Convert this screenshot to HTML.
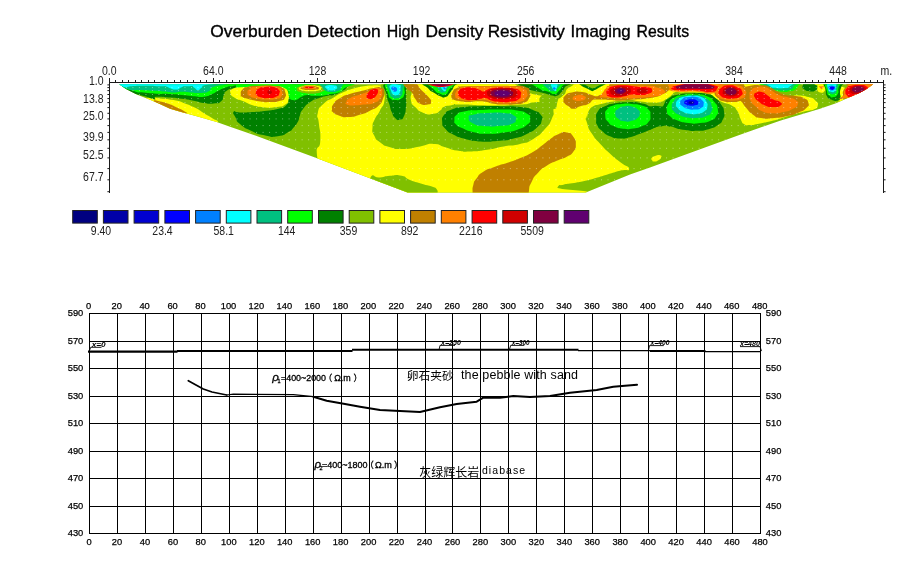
<!DOCTYPE html>
<html><head><meta charset="utf-8"><title>Overburden Detection High Density Resistivity Imaging Results</title>
<style>html,body{margin:0;padding:0;background:#fff}svg{display:block}text{font-family:"Liberation Sans","Noto Sans CJK SC",sans-serif;fill:#000}.ax{font-size:12px;fill:#222}.g{font-size:9.8px;stroke:#000;stroke-width:.25px}.cj{font-family:"Liberation Sans","Noto Sans CJK SC",sans-serif}</style></head><body>
<svg width="900" height="562" viewBox="0 0 900 562">
<rect width="900" height="562" fill="#fff"/>
<text y="37.2" font-size="16.6" stroke="#000" stroke-width="0.35"><tspan x="210.3" textLength="91.9" lengthAdjust="spacingAndGlyphs">Overburden</tspan> <tspan x="306.9" textLength="73.7" lengthAdjust="spacingAndGlyphs">Detection</tspan> <tspan x="386.7" textLength="32.7" lengthAdjust="spacingAndGlyphs">High</tspan> <tspan x="425.6" textLength="57.8" lengthAdjust="spacingAndGlyphs">Density</tspan> <tspan x="487.7" textLength="77.2" lengthAdjust="spacingAndGlyphs">Resistivity</tspan> <tspan x="570.6" textLength="60.2" lengthAdjust="spacingAndGlyphs">Imaging</tspan> <tspan x="636.5" textLength="52.6" lengthAdjust="spacingAndGlyphs">Results</tspan></text>
<g stroke="#1a1a1a" stroke-width="1" fill="none" shape-rendering="crispEdges">
<path d="M109.2 82.5H883.8"/>
<path d="M109.0 82.0V193"/>
<path d="M883.8 82.0V193"/>
<path d="M109.2 82.5v-4.2M115.7 82.5v-2.2M122.2 82.5v-2.2M128.7 82.5v-2.2M135.2 82.5v-2.2M141.7 82.5v-2.2M148.2 82.5v-2.2M154.8 82.5v-2.2M161.3 82.5v-2.2M167.8 82.5v-2.2M174.3 82.5v-2.2M180.8 82.5v-2.2M187.3 82.5v-2.2M193.8 82.5v-2.2M200.3 82.5v-2.2M206.8 82.5v-2.2M213.3 82.5v-4.2M219.8 82.5v-2.2M226.3 82.5v-2.2M232.9 82.5v-2.2M239.4 82.5v-2.2M245.9 82.5v-2.2M252.4 82.5v-2.2M258.9 82.5v-2.2M265.4 82.5v-2.2M271.9 82.5v-2.2M278.4 82.5v-2.2M284.9 82.5v-2.2M291.4 82.5v-2.2M297.9 82.5v-2.2M304.4 82.5v-2.2M310.9 82.5v-2.2M317.5 82.5v-4.2M324.0 82.5v-2.2M330.5 82.5v-2.2M337.0 82.5v-2.2M343.5 82.5v-2.2M350.0 82.5v-2.2M356.5 82.5v-2.2M363.0 82.5v-2.2M369.5 82.5v-2.2M376.0 82.5v-2.2M382.5 82.5v-2.2M389.0 82.5v-2.2M395.6 82.5v-2.2M402.1 82.5v-2.2M408.6 82.5v-2.2M415.1 82.5v-2.2M421.6 82.5v-4.2M428.1 82.5v-2.2M434.6 82.5v-2.2M441.1 82.5v-2.2M447.6 82.5v-2.2M454.1 82.5v-2.2M460.6 82.5v-2.2M467.1 82.5v-2.2M473.6 82.5v-2.2M480.2 82.5v-2.2M486.7 82.5v-2.2M493.2 82.5v-2.2M499.7 82.5v-2.2M506.2 82.5v-2.2M512.7 82.5v-2.2M519.2 82.5v-2.2M525.7 82.5v-4.2M532.2 82.5v-2.2M538.7 82.5v-2.2M545.2 82.5v-2.2M551.7 82.5v-2.2M558.3 82.5v-2.2M564.8 82.5v-2.2M571.3 82.5v-2.2M577.8 82.5v-2.2M584.3 82.5v-2.2M590.8 82.5v-2.2M597.3 82.5v-2.2M603.8 82.5v-2.2M610.3 82.5v-2.2M616.8 82.5v-2.2M623.3 82.5v-2.2M629.8 82.5v-4.2M636.3 82.5v-2.2M642.9 82.5v-2.2M649.4 82.5v-2.2M655.9 82.5v-2.2M662.4 82.5v-2.2M668.9 82.5v-2.2M675.4 82.5v-2.2M681.9 82.5v-2.2M688.4 82.5v-2.2M694.9 82.5v-2.2M701.4 82.5v-2.2M707.9 82.5v-2.2M714.4 82.5v-2.2M721.0 82.5v-2.2M727.5 82.5v-2.2M734.0 82.5v-4.2M740.5 82.5v-2.2M747.0 82.5v-2.2M753.5 82.5v-2.2M760.0 82.5v-2.2M766.5 82.5v-2.2M773.0 82.5v-2.2M779.5 82.5v-2.2M786.0 82.5v-2.2M792.5 82.5v-2.2M799.0 82.5v-2.2M805.6 82.5v-2.2M812.1 82.5v-2.2M818.6 82.5v-2.2M825.1 82.5v-2.2M831.6 82.5v-2.2M838.1 82.5v-4.2M844.6 82.5v-2.2M851.1 82.5v-2.2M857.6 82.5v-2.2M864.1 82.5v-2.2M870.6 82.5v-2.2M877.1 82.5v-2.2M883.7 82.5v-2.2"/>
</g>
<path d="M109.0 84.9h-1.6M883.8 84.9h1.8M109.0 87.6h-1.6M883.8 87.6h1.8M109.0 90.6h-1.6M883.8 90.6h1.8M109.0 94.5h-1.6M883.8 94.5h1.8M109.0 98.6h-1.6M883.8 98.6h1.8M109.0 102.6h-1.6M883.8 102.6h1.8M109.0 107.6h-1.6M883.8 107.6h1.8M109.0 113.3h-1.6M883.8 113.3h1.8M109.0 118.9h-1.6M883.8 118.9h1.8M109.0 125.6h-1.6M883.8 125.6h1.8M109.0 132.4h-1.6M883.8 132.4h1.8M109.0 139.8h-1.6M883.8 139.8h1.8M109.0 148.3h-1.6M883.8 148.3h1.8M109.0 157.9h-1.6M883.8 157.9h1.8M109.0 168.6h-1.6M883.8 168.6h1.8M109.0 179.8h-1.6M883.8 179.8h1.8M109.0 191.7h-1.6M883.8 191.7h1.8" stroke="#1a1a1a" stroke-width="1" fill="none"/>
<text class="ax" x="109.2" y="74.9" text-anchor="middle" textLength="14.6" lengthAdjust="spacingAndGlyphs">0.0</text>
<text class="ax" x="213.3" y="74.9" text-anchor="middle" textLength="20.4" lengthAdjust="spacingAndGlyphs">64.0</text>
<text class="ax" x="317.5" y="74.9" text-anchor="middle" textLength="17.5" lengthAdjust="spacingAndGlyphs">128</text>
<text class="ax" x="421.6" y="74.9" text-anchor="middle" textLength="17.5" lengthAdjust="spacingAndGlyphs">192</text>
<text class="ax" x="525.7" y="74.9" text-anchor="middle" textLength="17.5" lengthAdjust="spacingAndGlyphs">256</text>
<text class="ax" x="629.8" y="74.9" text-anchor="middle" textLength="17.5" lengthAdjust="spacingAndGlyphs">320</text>
<text class="ax" x="734.0" y="74.9" text-anchor="middle" textLength="17.5" lengthAdjust="spacingAndGlyphs">384</text>
<text class="ax" x="838.1" y="74.9" text-anchor="middle" textLength="17.5" lengthAdjust="spacingAndGlyphs">448</text>
<text class="ax" x="880.5" y="74.9" textLength="11.7" lengthAdjust="spacingAndGlyphs">m.</text>
<text class="ax" x="103.5" y="84.8" text-anchor="end" textLength="14.6" lengthAdjust="spacingAndGlyphs">1.0</text>
<text class="ax" x="103.5" y="103.2" text-anchor="end" textLength="20.4" lengthAdjust="spacingAndGlyphs">13.8</text>
<text class="ax" x="103.5" y="119.6" text-anchor="end" textLength="20.4" lengthAdjust="spacingAndGlyphs">25.0</text>
<text class="ax" x="103.5" y="140.9" text-anchor="end" textLength="20.4" lengthAdjust="spacingAndGlyphs">39.9</text>
<text class="ax" x="103.5" y="159.4" text-anchor="end" textLength="20.4" lengthAdjust="spacingAndGlyphs">52.5</text>
<text class="ax" x="103.5" y="180.8" text-anchor="end" textLength="20.4" lengthAdjust="spacingAndGlyphs">67.7</text>
<defs><clipPath id="cp"><path d="M119.3 84.2L873.3 84.2L866.7 89.1L860.0 92.7L846.7 98.4L836.0 103.3L820.0 108.7L806.7 112.7L793.3 116.7L780.0 120.7L740.0 134.7L650.0 167.5L630.0 174.6L585.8 192.6L407.5 192.6L315.0 157.5L260.0 137.2L230.0 126.7L216.7 122.1L196.7 116.3L184.7 112.9L170.0 108.7L155.3 102.1L150.0 99.7L136.7 94.4L126.0 89.1Z"/></clipPath></defs>
<g clip-path="url(#cp)">
<rect x="100" y="80" width="800" height="120" fill="#80c000"/>
<path fill="#ffff00" d="M317.8 160.6C314.5 140.8 319.9 152.8 320.3 140.5C320.7 128.3 319.8 133.0 318.9 123.8C318.1 114.6 316.2 119.6 317.8 112.9C319.3 106.2 318.3 108.9 323.6 103.7C328.9 98.6 327.0 101.3 333.6 97.4C340.3 93.5 337.0 95.0 343.7 92.0C350.4 89.0 347.0 90.2 353.7 88.4C360.4 86.5 357.1 87.4 363.7 86.3C370.4 85.3 367.1 85.8 373.8 85.3C380.5 84.9 378.2 86.1 383.8 85.0C389.4 83.9 316.1 83.0 390.5 82.0C464.9 81.0 535.7 78.7 607.0 82.0C678.4 85.3 607.6 86.5 604.5 92.0C601.4 97.6 602.3 93.7 597.8 98.7C593.4 103.7 594.9 101.5 591.1 107.1C587.3 112.7 587.7 109.9 586.5 115.4C585.2 121.0 585.5 117.7 587.3 123.8C589.1 129.9 587.6 127.2 592.0 133.8C596.3 140.5 594.2 137.2 600.3 143.9C606.5 150.6 603.7 147.8 610.4 153.9C617.1 160.0 614.2 157.3 620.4 162.3C626.6 167.3 629.2 166.1 629.1 169.0C629.0 171.8 627.5 168.9 620.0 170.8C612.5 172.7 615.6 172.1 606.7 174.7C597.8 177.3 601.1 176.5 593.3 178.7C585.6 180.8 590.4 179.7 583.3 181.2C576.2 182.7 578.7 182.0 572.0 183.2C565.3 184.3 568.2 183.3 563.3 184.7C558.5 186.0 560.6 183.6 557.5 187.2C554.4 190.7 630.0 191.1 554.2 195.3C478.3 199.6 408.8 211.6 330.0 200.0C251.2 188.4 321.0 180.4 317.8 160.6Z"/>
<path fill="#ffff00" d="M586.2 82.0C640.9 70.9 692.3 80.8 750.4 82.0C808.5 83.2 754.3 83.7 760.4 85.7C766.6 87.6 762.8 85.5 768.8 87.9C774.8 90.2 771.9 90.1 778.5 92.9C785.1 95.7 781.8 95.4 788.5 96.2C795.2 97.1 791.9 95.1 798.6 95.4C805.3 95.7 803.0 95.4 808.6 97.1C814.2 98.7 812.2 97.6 815.3 100.4C818.4 103.2 818.4 102.3 817.8 105.4C817.2 108.5 817.2 107.7 813.6 109.6C810.0 111.5 814.7 109.1 806.9 111.1C799.1 113.0 801.3 112.3 790.2 115.4C779.1 118.6 783.5 117.8 773.5 120.5C763.4 123.1 767.9 121.9 760.1 123.5C752.3 125.0 755.4 124.9 750.1 125.1C744.7 125.4 747.1 125.9 744.0 124.1C741.0 122.4 743.4 124.5 741.0 120.0C738.7 115.4 740.1 115.4 737.0 110.6C733.9 105.7 737.0 108.5 731.7 105.4C726.3 102.3 727.0 104.3 721.0 101.4C714.9 98.5 717.2 99.2 713.6 96.7C710.0 94.3 711.9 95.2 710.3 94.0C708.6 92.9 713.1 93.9 708.6 93.4C704.1 92.8 706.4 92.7 696.9 92.4C687.4 92.0 687.7 92.4 680.2 92.4C672.6 92.4 677.0 91.6 674.3 92.4C671.6 93.1 674.7 92.4 672.1 94.5C669.6 96.7 670.7 96.2 666.6 98.7C662.6 101.2 664.7 100.8 659.9 102.1C655.1 103.3 658.5 102.8 652.2 102.6C645.9 102.3 648.5 102.3 641.0 101.4C633.6 100.5 635.5 100.2 630.0 99.9C624.5 99.6 630.1 99.9 624.5 100.4C618.9 100.9 620.7 100.3 613.3 101.4C605.9 102.5 609.6 101.7 602.2 103.7C594.9 105.8 596.6 103.7 591.2 107.6C585.9 111.5 587.9 124.0 586.2 115.4C584.5 106.9 531.4 93.1 586.2 82.0Z"/>
<path fill="#ffff00" d="M147.6 97.9C151.5 96.4 151.5 97.7 160.2 98.4C168.8 99.1 165.7 98.6 173.5 100.1C181.3 101.6 176.9 100.6 183.6 102.9C190.3 105.2 186.9 103.7 193.6 107.1C200.3 110.4 197.5 109.3 203.6 112.9C209.8 116.6 207.3 114.8 212.0 118.0C216.7 121.1 218.4 119.8 217.9 122.5C217.3 125.1 233.5 132.3 210.3 125.8C187.2 119.3 169.4 112.2 148.5 102.9C127.6 93.6 143.7 99.4 147.6 97.9Z"/>
<path fill="#ffff00" d="M230.5 92.9C229.6 89.8 229.9 91.1 232.5 88.7C235.1 86.3 232.5 87.0 238.3 85.7C244.2 84.3 241.1 85.1 250.0 84.7C259.0 84.2 255.6 84.3 265.1 84.3C274.6 84.3 271.8 83.8 278.5 84.7C285.2 85.6 281.9 84.6 285.2 87.0C288.4 89.5 287.0 88.1 288.2 92.0C289.3 95.9 289.5 94.5 288.5 98.7C287.5 102.9 289.1 101.8 285.2 104.6C281.2 107.4 283.5 106.1 276.8 107.1C270.1 108.0 272.9 108.0 265.1 107.4C257.3 106.9 260.6 107.5 253.4 105.4C246.1 103.3 249.5 103.7 243.3 101.2C237.2 98.7 239.3 100.7 235.0 97.9C230.7 95.1 231.3 95.9 230.5 92.9Z"/>
<path fill="#ffff00" d="M651.7 158.1C652.7 156.6 652.3 156.9 655.1 155.9C657.9 155.0 658.1 154.7 660.1 155.2C662.1 155.8 661.7 155.9 661.1 157.6C660.5 159.3 660.7 158.9 658.4 160.3C656.1 161.6 656.4 161.6 654.2 161.6C652.1 161.6 652.9 161.4 652.1 160.3C651.2 159.1 650.7 159.5 651.7 158.1Z"/>
<path fill="#ffff00" d="M816.1 82.0C813.2 84.2 815.5 85.2 816.9 88.7C818.3 92.1 817.8 91.5 820.3 92.4C822.8 93.2 822.8 93.0 824.4 91.2C826.1 89.4 824.9 90.1 825.3 87.0C825.7 84.0 828.7 83.7 825.6 82.0C822.6 80.3 819.0 79.8 816.1 82.0Z"/>
<path fill="#ffff00" d="M837.0 92.0C836.5 89.5 836.7 90.4 838.7 88.7C840.6 87.0 840.6 86.5 842.8 87.0C845.1 87.6 844.8 87.0 845.4 90.4C845.9 93.7 845.6 93.7 844.5 97.1C843.4 100.4 844.2 99.2 842.0 100.4C839.8 101.6 838.5 102.1 837.8 100.7C837.2 99.3 840.3 99.1 840.0 96.2C839.7 93.3 837.4 94.5 837.0 92.0Z"/>
<path fill="#80c000" d="M384.2 82.0C375.2 87.6 386.1 89.2 384.7 98.7C383.3 108.2 383.3 103.7 380.0 110.4C376.8 117.1 377.5 113.2 375.0 118.8C372.5 124.4 372.8 121.6 372.5 127.2C372.2 132.7 371.7 130.5 374.2 135.5C376.7 140.5 374.7 138.3 380.0 142.2C385.3 146.1 382.3 145.0 390.1 147.2C397.9 149.4 393.4 149.2 403.4 148.9C413.5 148.6 410.1 148.1 420.2 146.4C430.2 144.7 425.2 143.6 433.5 143.9C441.9 144.2 437.4 145.0 445.3 147.2C453.1 149.4 448.6 149.2 457.0 150.6C465.3 152.0 460.3 151.7 470.3 151.4C480.4 151.1 475.9 151.4 487.1 149.7C498.2 148.1 492.8 148.3 503.8 146.4C514.8 144.4 510.1 146.4 520.0 143.9C529.9 141.4 525.0 143.9 533.4 138.9C541.7 133.8 539.0 135.5 545.1 128.8C551.2 122.1 549.0 124.9 551.8 118.8C554.6 112.7 553.6 115.2 553.4 110.4C553.3 105.7 554.6 107.1 551.4 104.6C548.3 102.1 549.9 103.6 543.9 102.9C537.9 102.2 541.3 101.8 533.4 102.4C525.4 103.0 535.4 103.6 520.0 104.6C504.6 105.6 505.8 105.4 487.1 105.4C468.3 105.4 475.9 104.6 463.6 104.6C451.4 104.6 457.0 104.6 450.3 105.4C443.6 106.2 446.9 105.4 443.6 107.1C440.2 108.8 443.6 108.2 440.2 110.4C436.9 112.7 439.1 112.9 433.5 113.8C428.0 114.6 429.6 115.2 423.5 112.9C417.4 110.7 419.3 111.3 415.2 107.1C411.0 102.9 412.1 105.4 411.0 100.4C409.9 95.4 411.2 96.5 411.8 92.0C412.4 87.6 412.6 90.4 412.6 87.0C412.6 83.7 421.3 83.7 411.8 82.0C402.3 80.3 393.2 76.4 384.2 82.0Z"/>
<path fill="#80c000" d="M521.7 82.0C507.2 84.5 521.2 86.1 523.4 89.5C525.6 93.0 524.5 90.7 528.4 92.4C532.3 94.0 530.1 93.3 535.1 94.5C540.1 95.8 537.9 95.1 543.5 96.2C549.1 97.3 547.4 97.1 551.8 97.9C556.3 98.7 553.2 99.4 556.9 98.7C560.5 98.0 559.6 98.5 562.7 95.7C565.8 92.9 564.7 94.9 566.1 90.4C567.4 85.8 581.7 84.8 566.9 82.0C552.1 79.2 536.2 79.5 521.7 82.0Z"/>
<path fill="#80c000" d="M543.7 94.7C549.0 92.0 551.3 91.6 555.7 94.7C560.1 97.8 557.9 99.1 557.0 104.0C556.1 108.9 557.0 108.4 553.0 109.3C549.0 110.2 549.4 108.9 545.0 106.7C540.6 104.5 540.1 106.7 539.7 102.7C539.3 98.7 538.4 97.4 543.7 94.7Z"/>
<path fill="#80c000" d="M370.0 178.7C373.3 171.2 373.3 178.4 380.0 177.5C386.7 176.6 382.8 176.4 390.0 175.8C397.2 175.3 395.0 174.4 401.7 175.8C408.3 177.2 402.8 177.2 410.0 180.0C417.2 182.8 415.8 181.9 423.3 184.2C430.8 186.4 428.1 184.9 432.5 186.7C436.9 188.4 434.9 186.8 436.7 189.3C438.4 191.8 437.3 190.6 437.7 194.2C438.0 197.7 460.2 198.1 437.7 200.0C415.1 201.9 392.6 207.1 370.0 200.0C347.4 192.9 366.7 186.2 370.0 178.7Z"/>
<path fill="#008000" d="M115.0 82.0C146.8 76.9 203.1 80.3 243.8 82.0C284.5 83.7 242.7 84.2 237.1 87.0C231.5 89.8 231.5 87.6 227.1 90.4C222.6 93.1 225.7 91.8 223.7 95.4C221.8 99.0 224.5 98.6 221.2 101.2C217.9 103.9 219.5 102.8 213.7 103.4C207.8 104.0 210.3 103.8 203.6 102.9C197.0 102.0 200.9 102.1 193.6 100.7C186.4 99.3 190.3 99.8 181.9 98.7C173.5 97.6 176.9 98.1 168.5 97.4C160.2 96.7 163.5 96.7 156.8 96.7C150.1 96.7 162.4 102.3 148.5 97.4C134.5 92.5 83.2 87.1 115.0 82.0Z"/>
<path fill="#008000" d="M233.6 111.8C235.0 109.9 233.4 112.3 240.0 112.4C246.6 112.5 244.5 112.7 253.4 112.1C262.3 111.5 258.4 111.9 266.8 110.8C275.1 109.6 272.1 110.5 278.5 108.8C284.9 107.0 282.5 108.5 286.0 105.4C289.4 102.3 287.9 103.5 288.8 99.6C289.8 95.7 289.2 97.1 288.8 93.7C288.4 90.4 287.7 93.4 287.7 89.5C287.7 85.6 269.0 84.5 288.8 82.0C308.6 79.5 327.6 80.3 347.0 82.0C366.4 83.7 349.3 83.7 347.0 87.0C344.8 90.4 344.8 89.4 340.3 92.0C335.9 94.7 337.8 93.8 333.6 95.0C329.5 96.3 332.8 94.7 327.8 95.7C322.8 96.8 324.4 96.1 318.6 98.2C312.7 100.3 315.5 98.3 310.2 102.1C304.9 105.9 306.2 105.1 302.7 109.6C299.3 114.1 301.5 111.3 299.9 115.4C298.2 119.6 299.9 118.0 297.7 122.1C295.5 126.3 296.1 124.8 293.2 128.0C290.2 131.2 294.0 129.0 288.8 131.8C283.7 134.6 285.9 135.2 277.8 136.3C269.7 137.5 273.3 137.0 264.4 135.2C255.5 133.3 259.2 134.5 251.0 130.8C242.9 127.2 245.1 128.4 240.0 124.1C234.9 119.8 237.9 122.1 235.8 118.0C233.7 113.8 232.3 113.6 233.6 111.8Z"/>
<path fill="#008000" d="M385.9 82.0C380.0 86.5 385.6 88.1 386.7 95.4C387.8 102.6 387.6 98.2 389.2 103.7C390.9 109.3 389.8 107.4 391.7 112.1C393.7 116.8 392.3 115.4 395.1 118.0C397.9 120.5 397.0 120.5 400.1 119.6C403.2 118.8 402.3 119.6 404.3 115.4C406.2 111.3 405.3 112.7 406.0 107.1C406.6 101.5 406.1 103.7 406.1 98.7C406.1 93.7 406.6 97.6 406.0 92.0C405.3 86.5 411.0 85.3 404.3 82.0C397.6 78.7 391.7 77.5 385.9 82.0Z"/>
<path fill="#008000" d="M426.0 82.0C417.4 84.2 425.7 85.1 428.5 88.7C431.3 92.3 430.5 90.4 434.4 92.9C438.3 95.4 436.6 94.8 440.2 96.2C443.9 97.6 442.0 98.2 445.3 97.1C448.5 95.9 447.1 96.2 449.9 92.9C452.7 89.5 452.1 90.6 453.6 87.0C455.1 83.4 463.6 83.7 454.4 82.0C445.3 80.3 434.7 79.8 426.0 82.0Z"/>
<path fill="#008000" d="M442.2 122.1C442.0 117.4 441.2 118.8 444.4 114.6C447.6 110.4 445.5 112.1 451.9 109.6C458.4 107.1 454.2 108.2 463.6 107.1C473.1 106.0 468.1 106.5 480.4 106.2C492.6 106.0 487.1 106.0 500.4 106.2C513.8 106.5 509.4 105.7 520.5 107.1C531.6 108.5 527.2 107.9 533.9 110.4C540.6 112.9 537.9 111.3 540.6 114.6C543.2 118.0 542.9 116.3 541.7 120.5C540.6 124.6 542.1 122.7 537.2 127.2C532.4 131.6 535.0 130.0 527.2 133.8C519.4 137.6 523.8 136.2 513.8 138.5C503.8 140.9 508.2 139.9 497.1 140.9C485.9 141.8 491.0 142.0 480.4 141.4C469.8 140.7 474.2 141.1 465.3 138.9C456.4 136.6 460.3 138.0 453.6 134.7C446.9 131.3 449.0 133.0 445.3 128.8C441.5 124.6 442.5 126.9 442.2 122.1Z"/>
<path fill="#008000" d="M523.4 82.0C510.6 84.2 523.4 85.8 526.8 88.7C530.1 91.6 527.9 89.3 533.4 90.7C539.0 92.1 537.3 91.3 543.5 92.9C549.6 94.4 547.4 94.4 551.8 95.4C556.3 96.3 553.8 96.7 556.9 95.7C559.9 94.7 558.5 95.0 561.0 92.4C563.5 89.7 563.0 91.3 564.4 87.9C565.8 84.4 578.9 84.0 565.2 82.0C551.6 80.0 536.2 79.8 523.4 82.0Z"/>
<path fill="#008000" d="M596.2 119.6C596.4 114.9 595.0 115.7 597.9 111.3C600.8 106.8 599.2 108.9 604.9 106.2C610.6 103.6 607.1 104.6 614.9 103.2C622.8 101.9 620.0 102.3 628.3 102.2C636.7 102.2 632.8 101.6 640.0 103.1C647.3 104.5 644.5 103.9 650.1 106.6C655.6 109.3 652.3 108.3 656.8 111.3C661.2 114.2 660.4 111.8 663.4 115.4C666.5 119.1 666.0 118.7 666.0 122.1C666.0 125.6 666.5 124.3 663.4 125.8C660.4 127.4 661.2 125.5 656.8 126.8C652.3 128.1 655.6 127.3 650.1 129.7C644.5 132.0 646.7 131.3 640.0 133.8C633.3 136.3 636.7 135.6 630.0 137.2C623.3 138.7 626.7 138.8 620.0 138.5C613.3 138.2 616.1 139.0 609.9 136.3C603.8 133.7 605.8 134.1 601.6 130.5C597.4 126.9 599.2 129.1 597.4 125.5C595.6 121.9 596.1 124.4 596.2 119.6Z"/>
<path fill="#008000" d="M662.6 112.1C661.8 105.7 662.1 108.5 664.3 103.7C666.5 99.0 664.6 101.0 669.3 97.9C674.0 94.8 671.0 96.0 678.5 94.5C686.0 93.0 682.4 93.5 691.9 93.4C701.3 93.2 699.1 92.5 706.9 94.0C714.7 95.5 710.5 94.4 715.3 97.9C720.0 101.4 718.2 99.8 721.1 104.6C724.1 109.3 723.6 107.1 724.1 112.1C724.7 117.1 724.9 115.3 722.8 119.6C720.7 124.0 722.5 122.0 717.8 125.1C713.1 128.3 715.6 127.3 708.6 129.2C701.6 131.1 704.7 130.6 696.9 130.8C689.1 131.1 692.7 131.1 685.2 130.0C677.7 128.9 680.4 129.8 674.3 127.5C668.2 125.1 670.7 128.1 666.8 123.0C662.9 117.8 663.4 118.5 662.6 112.1Z"/>
<path fill="#008000" d="M646.7 107.1L655.1 105.7L661.8 106.4L668.5 107.1L670.1 126.8L665.1 125.5L658.4 126.3L650.1 129.7L646.7 128.8Z"/>
<path fill="#008000" d="M579.0 84.0L606.0 84.0L600.0 87.0L596.0 89.5L592.2 91.2L588.0 89.0L583.0 86.8Z"/>
<path fill="#80c000" d="M584.0 84.0L602.0 84.0L597.0 86.6L592.5 88.6L588.0 86.6Z"/>
<path fill="#008000" d="M802.7 85.7C801.9 88.2 801.9 87.6 804.4 89.5C806.9 91.4 806.6 91.1 810.2 91.4C813.9 91.6 812.9 91.8 815.3 90.4C817.6 88.9 817.3 88.9 817.3 87.0C817.3 85.1 818.7 86.3 815.3 84.7C811.8 83.0 811.1 81.7 806.9 82.0C802.7 82.3 803.5 83.2 802.7 85.7Z"/>
<path fill="#008000" d="M826.0 82.0C820.5 84.8 825.5 85.6 825.8 90.4C826.1 95.1 825.2 93.1 827.0 96.2C828.7 99.3 827.8 98.1 831.1 99.6C834.5 101.1 833.9 101.3 837.0 100.7C840.1 100.2 839.3 100.8 840.3 97.9C841.3 95.0 839.7 95.7 840.0 92.0C840.3 88.4 840.5 90.4 841.2 87.0C841.8 83.7 847.1 83.7 842.0 82.0C836.9 80.3 831.4 79.2 826.0 82.0Z"/>
<path fill="#00ff00" d="M115.0 82.0C151.8 79.1 204.2 80.8 243.8 82.0C283.4 83.2 239.3 84.0 233.7 85.7C228.2 87.4 232.1 85.5 227.1 87.0C222.0 88.6 223.7 88.0 218.7 90.4C213.7 92.7 217.0 91.9 212.0 94.0C207.0 96.2 209.8 96.0 203.6 96.7C197.5 97.4 200.9 96.8 193.6 96.2C186.4 95.7 190.3 95.8 181.9 95.0C173.5 94.3 176.9 94.5 168.5 94.0C160.2 93.6 165.2 94.3 156.8 93.7C148.5 93.1 151.2 93.4 143.4 92.4C135.6 91.4 142.9 94.2 133.4 90.7C123.9 87.2 78.2 84.9 115.0 82.0Z"/>
<path fill="#00ff00" d="M236.0 83.0L292.0 83.0L292.0 86.2L268.0 87.0L250.0 86.8L236.0 87.6Z"/>
<path fill="#00ff00" d="M288.8 82.0C308.3 78.7 328.7 79.8 347.0 82.0C365.3 84.2 346.5 85.2 343.7 88.7C340.9 92.1 343.1 90.6 338.7 92.4C334.2 94.2 335.3 93.0 330.3 94.0C325.3 95.0 329.2 94.8 323.6 95.4C318.0 95.9 319.2 95.8 313.6 95.7C308.0 95.6 311.1 94.6 306.9 95.0C302.7 95.5 304.4 95.5 301.0 97.1C297.7 98.6 299.6 98.6 296.9 99.6C294.1 100.6 295.1 100.8 292.7 100.1C290.2 99.3 290.9 100.1 289.5 97.4C288.1 94.7 288.7 97.2 288.5 92.0C288.3 86.9 269.3 85.3 288.8 82.0Z"/>
<path fill="#00ff00" d="M387.2 82.0C382.2 85.9 386.8 88.1 388.1 93.7C389.3 99.3 388.6 96.6 390.9 98.7C393.2 100.8 391.7 100.1 395.1 100.1C398.4 100.1 397.9 100.6 400.9 98.7C404.0 96.9 403.2 97.9 404.3 94.5C405.4 91.2 404.7 92.9 404.3 88.7C403.9 84.5 408.8 84.2 403.1 82.0C397.4 79.8 392.2 78.1 387.2 82.0Z"/>
<path fill="#00ff00" d="M430.2 82.0C424.5 84.7 431.0 86.1 434.4 90.0C437.7 93.9 436.7 92.2 440.2 93.7C443.7 95.2 442.1 95.5 444.9 94.5C447.7 93.5 446.4 94.9 448.6 90.7C450.8 86.5 457.7 84.9 451.6 82.0C445.5 79.1 435.9 79.3 430.2 82.0Z"/>
<path fill="#00ff00" d="M454.4 120.5C454.7 117.1 453.3 117.7 457.0 114.6C460.6 111.5 457.5 112.8 465.3 111.3C473.1 109.8 468.7 110.7 480.4 110.1C492.1 109.5 488.2 109.5 500.4 109.6C512.7 109.7 508.2 109.0 517.2 110.4C526.1 111.8 522.9 111.0 527.2 113.8C531.5 116.6 530.0 115.2 530.0 118.8C530.0 122.4 531.5 121.0 527.2 124.6C522.9 128.3 525.0 127.0 517.2 129.7C509.4 132.3 513.8 131.1 503.8 132.5C493.7 133.9 497.1 134.0 487.1 133.8C477.0 133.7 482.0 134.1 473.7 132.2C465.3 130.2 467.8 130.5 462.0 128.0C456.1 125.5 458.6 127.2 456.1 124.6C453.6 122.1 454.2 123.8 454.4 120.5Z"/>
<path fill="#00ff00" d="M535.1 82.0C527.9 84.3 535.7 85.8 540.1 89.0C544.6 92.3 543.8 90.0 548.5 91.7C553.2 93.4 551.0 94.2 554.3 94.0C557.7 93.9 556.1 93.5 558.5 91.2C560.9 88.9 560.4 90.1 561.5 87.0C562.7 84.0 570.7 83.7 561.9 82.0C553.1 80.3 542.4 79.7 535.1 82.0Z"/>
<path fill="#00ff00" d="M605.3 115.4C605.0 111.1 604.7 112.4 607.4 109.1C610.1 105.7 608.5 107.1 613.3 105.4C618.0 103.7 615.5 104.4 621.6 103.9C627.8 103.4 625.0 103.3 631.7 103.9C638.4 104.5 636.1 103.7 641.7 105.6C647.3 107.5 645.5 106.3 648.4 109.6C651.3 112.9 650.4 111.3 650.4 115.4C650.4 119.6 651.3 118.5 648.4 122.1C645.5 125.8 646.7 124.2 641.7 126.3C636.7 128.4 639.5 127.7 633.3 128.5C627.2 129.3 629.7 129.5 623.3 128.8C616.9 128.1 619.1 128.5 614.1 126.3C609.1 124.1 611.2 125.8 608.3 122.1C605.3 118.5 605.5 119.8 605.3 115.4Z"/>
<path fill="#00ff00" d="M666.8 110.4C666.3 106.0 666.3 107.3 668.8 102.9C671.3 98.6 669.4 100.1 674.3 97.4C679.2 94.7 676.5 95.9 683.5 94.9C690.5 93.9 687.4 93.9 695.2 94.4C703.0 94.8 700.5 93.6 706.9 96.2C713.3 98.8 710.8 97.6 714.4 102.1C718.1 106.5 717.2 104.9 717.8 109.6C718.4 114.3 718.6 112.5 716.1 116.3C713.6 120.0 715.6 118.5 710.3 120.8C705.0 123.1 707.5 122.4 700.2 123.1C693.0 123.9 696.1 123.9 688.5 123.0C681.0 122.1 683.8 122.7 677.7 120.5C671.5 118.2 673.8 119.6 670.1 116.3C666.5 112.9 667.2 114.9 666.8 110.4Z"/>
<path fill="#00ff00" d="M763.4 82.0C752.5 83.8 762.9 84.7 765.9 87.4C769.0 90.0 767.3 88.6 772.6 90.0C777.9 91.5 776.0 91.3 781.8 91.7C787.7 92.1 785.4 92.1 790.2 91.2C794.9 90.3 793.5 90.7 796.0 89.0C798.5 87.4 796.9 88.5 797.7 86.2C798.5 83.8 810.0 83.4 798.5 82.0C787.1 80.6 774.3 80.2 763.4 82.0Z"/>
<path fill="#00ff00" d="M827.0 82.0C822.9 85.1 826.1 86.6 827.0 91.2C827.8 95.8 827.2 93.8 829.5 95.7C831.7 97.7 830.9 97.7 833.6 97.1C836.4 96.4 836.3 96.5 837.8 93.7C839.4 90.9 837.9 92.6 838.3 88.7C838.7 84.8 842.8 84.2 839.0 82.0C835.2 79.8 831.0 78.9 827.0 82.0Z"/>
<path fill="#80c000" d="M296.9 89.5C296.9 87.6 295.7 87.8 300.2 86.2C304.7 84.6 303.5 85.0 310.2 84.7C316.9 84.4 315.5 84.0 320.3 85.3C325.0 86.7 323.9 86.6 324.4 88.7C325.0 90.8 325.0 90.1 321.9 91.7C318.9 93.3 320.3 92.8 315.3 93.4C310.2 93.9 311.9 93.8 306.9 93.4C301.9 92.9 303.5 93.3 300.2 92.0C296.9 90.8 296.9 91.5 296.9 89.5Z"/>
<path fill="#ffff00" d="M298.9 88.7C298.6 87.2 298.9 87.4 302.7 86.2C306.5 85.0 305.2 85.2 310.2 85.2C315.3 85.1 314.1 85.0 317.8 86.0C321.4 87.1 321.1 86.8 321.1 88.4C321.1 89.9 321.4 89.7 317.8 90.7C314.1 91.6 315.0 91.2 310.2 91.2C305.5 91.2 307.3 91.5 303.5 90.7C299.8 89.9 299.1 90.2 298.9 88.7Z"/>
<path fill="#00c080" d="M115.0 82.0C144.3 79.8 182.5 80.0 214.5 82.0C246.6 84.0 213.1 84.8 211.2 87.9C209.2 90.9 212.0 89.5 208.7 91.2C205.3 92.9 207.3 92.5 201.1 92.9C195.0 93.3 196.7 92.8 190.3 92.4C183.9 92.0 187.5 91.7 181.9 91.7C176.3 91.7 179.7 92.5 173.5 92.4C167.4 92.3 170.8 91.9 163.5 91.4C156.3 90.8 159.6 91.1 151.8 90.7C144.0 90.2 148.5 90.7 140.1 90.0C131.7 89.4 135.1 91.4 126.7 88.7C118.4 86.0 85.8 84.2 115.0 82.0Z"/>
<path fill="#00c080" d="M321.9 82.0C327.8 80.0 333.9 80.0 340.3 82.0C346.7 84.0 342.3 84.8 341.2 87.9C340.1 90.9 340.3 89.8 337.0 91.2C333.6 92.6 335.0 92.3 331.1 92.0C327.2 91.8 328.1 91.8 325.3 90.4C322.5 89.0 323.9 90.6 322.8 87.9C321.7 85.1 316.1 84.0 321.9 82.0Z"/>
<path fill="#00c080" d="M388.7 82.0C384.6 85.6 388.5 87.7 389.7 92.9C391.0 98.0 390.2 95.6 392.6 97.4C394.9 99.2 394.0 98.6 396.8 98.2C399.5 97.8 399.0 98.6 400.9 96.2C402.9 93.9 402.2 95.9 402.6 91.2C403.0 86.5 406.7 85.1 402.1 82.0C397.5 78.9 392.9 78.4 388.7 82.0Z"/>
<path fill="#00c080" d="M436.1 82.0C432.9 84.8 436.9 86.9 439.4 90.4C441.9 93.8 441.1 92.6 443.6 92.4C446.1 92.1 445.1 93.0 446.9 89.5C448.7 86.1 452.6 84.5 448.9 82.0C445.3 79.5 439.2 79.2 436.1 82.0Z"/>
<path fill="#00c080" d="M468.7 118.0C468.7 114.9 467.5 116.3 473.7 114.6C479.8 112.9 477.0 113.5 487.1 112.9C497.1 112.4 494.9 112.1 503.8 112.9C512.7 113.8 509.8 113.2 513.8 115.4C517.8 117.7 516.4 116.8 515.8 119.6C515.3 122.4 517.3 121.7 512.1 123.8C507.0 125.9 509.4 125.0 500.4 125.8C491.5 126.6 494.3 127.0 485.4 126.3C476.5 125.6 479.3 126.6 473.7 123.8C468.1 121.0 468.7 121.0 468.7 118.0Z"/>
<path fill="#00c080" d="M543.8 82.0C540.2 84.2 544.4 85.6 547.7 88.7C550.9 91.8 550.4 90.9 553.5 91.2C556.6 91.5 555.2 92.6 556.9 89.5C558.5 86.5 562.9 84.5 558.5 82.0C554.2 79.5 547.4 79.8 543.8 82.0Z"/>
<path fill="#00c080" d="M615.3 113.8C615.3 110.4 615.1 111.3 618.3 108.8C621.5 106.2 620.2 106.9 625.0 106.2C629.7 105.6 628.2 105.6 632.5 106.7C636.9 107.9 635.6 107.3 638.0 109.6C640.4 111.9 639.9 111.0 639.7 113.8C639.5 116.6 640.2 115.6 637.5 118.0C634.8 120.3 636.1 119.7 631.7 120.8C627.2 121.9 628.6 122.0 624.1 121.3C619.7 120.6 621.2 121.3 618.3 118.8C615.3 116.3 615.3 117.1 615.3 113.8Z"/>
<path fill="#00c080" d="M671.8 107.1C671.8 103.7 671.3 104.6 673.8 101.2C676.3 97.9 674.7 99.0 679.3 97.1C684.0 95.1 681.3 95.9 687.7 95.4C694.1 94.8 692.2 94.3 698.6 95.4C705.0 96.5 702.6 95.4 706.9 98.7C711.3 102.1 710.2 101.0 711.6 105.4C713.0 109.9 712.9 108.5 711.1 112.1C709.3 115.7 710.8 114.3 706.1 116.3C701.3 118.2 703.3 117.6 696.9 118.0C690.5 118.3 693.0 118.6 686.9 117.5C680.7 116.3 682.8 116.7 678.5 114.6C674.1 112.5 676.0 113.8 673.8 111.3C671.6 108.8 671.8 110.4 671.8 107.1Z"/>
<path fill="#00c080" d="M766.4 82.0C758.1 83.8 765.5 84.8 768.4 87.4C771.3 89.9 770.1 88.5 775.1 89.5C780.1 90.5 778.5 90.4 783.5 90.4C788.5 90.4 786.9 90.6 790.2 89.5C793.4 88.4 792.1 89.5 793.2 87.0C794.3 84.5 802.4 83.7 793.5 82.0C784.6 80.3 774.8 80.2 766.4 82.0Z"/>
<path fill="#00c080" d="M828.0 82.0C824.9 84.8 827.1 86.6 828.0 90.4C828.8 94.2 828.5 92.3 830.5 93.4C832.5 94.5 831.9 94.7 834.0 93.7C836.0 92.7 835.7 94.3 836.7 90.4C837.7 86.5 839.9 84.8 837.0 82.0C834.1 79.2 831.0 79.2 828.0 82.0Z"/>
<path fill="#00ffff" d="M115.0 82.0C141.8 80.4 174.4 80.8 203.6 82.0C232.9 83.2 206.2 84.3 202.8 85.7C199.5 87.0 200.0 85.8 193.6 86.0C187.2 86.2 190.3 86.4 183.6 86.3C176.9 86.3 181.3 85.9 173.5 85.8C165.7 85.8 170.2 86.2 160.2 86.2C150.1 86.2 152.9 85.8 143.4 85.8C134.0 85.8 138.4 85.9 131.7 86.2C125.1 86.5 129.0 88.1 123.4 86.7C117.8 85.3 88.3 83.6 115.0 82.0Z"/>
<path fill="#00ffff" d="M166.9 85.7C171.0 85.1 176.9 84.8 181.1 85.7C185.3 86.6 181.1 87.1 179.4 88.4C177.7 89.6 178.7 89.4 176.1 89.5C173.4 89.6 174.0 89.4 171.5 88.7C169.0 88.0 170.1 88.4 168.5 87.4C167.0 86.3 162.7 86.2 166.9 85.7Z"/>
<path fill="#00ffff" d="M193.6 85.7C195.6 84.7 199.5 84.6 201.6 85.7C203.8 86.8 201.2 87.6 200.0 89.0C198.7 90.5 199.2 90.1 197.8 90.0C196.3 89.9 197.0 90.1 195.6 88.7C194.2 87.2 191.6 86.7 193.6 85.7Z"/>
<path fill="#00ffff" d="M326.1 85.7C328.5 84.6 330.0 84.9 333.6 85.3C337.3 85.8 336.4 85.6 337.0 87.0C337.5 88.4 337.5 88.4 335.3 89.5C333.1 90.6 333.2 90.6 330.3 90.4C327.4 90.1 328.0 90.2 326.6 88.7C325.2 87.1 323.8 86.8 326.1 85.7Z"/>
<path fill="#00ffff" d="M390.7 85.0C388.0 87.1 390.3 88.1 391.2 91.2C392.1 94.3 391.5 93.1 393.4 94.4C395.4 95.7 395.0 95.7 397.1 95.0C399.2 94.4 398.7 94.8 399.8 92.4C400.9 90.0 400.5 90.3 400.4 87.9C400.3 85.4 402.7 86.0 399.4 85.0C396.2 84.1 393.5 82.9 390.7 85.0Z"/>
<path fill="#00ffff" d="M440.2 82.0C438.8 84.7 440.8 87.8 442.7 90.0C444.7 92.3 444.7 91.4 446.1 88.7C447.5 86.0 448.9 84.2 446.9 82.0C445.0 79.8 441.6 79.3 440.2 82.0Z"/>
<path fill="#00ffff" d="M551.0 82.0C550.1 84.7 552.0 87.9 553.8 90.0C555.7 92.1 555.6 91.0 556.5 88.4C557.4 85.7 558.4 84.1 556.5 82.0C554.7 79.9 551.9 79.3 551.0 82.0Z"/>
<path fill="#00ffff" d="M676.0 104.6C676.3 101.8 675.7 102.2 678.5 99.6C681.3 96.9 679.6 97.9 684.3 96.7C689.1 95.5 687.1 95.8 692.7 95.9C698.3 96.0 696.6 95.3 701.1 97.1C705.5 98.8 704.0 97.9 706.1 101.2C708.1 104.6 707.8 103.7 707.3 107.1C706.7 110.4 707.6 109.0 704.4 111.3C701.2 113.5 702.7 112.9 697.7 113.8C692.7 114.6 694.7 114.6 689.4 113.8C684.1 112.9 685.7 113.2 681.8 111.3C677.9 109.3 679.6 110.1 677.7 107.9C675.7 105.7 675.7 107.4 676.0 104.6Z"/>
<path fill="#00ffff" d="M769.3 82.0C762.9 83.6 768.4 84.7 770.9 86.7C773.4 88.6 772.3 87.4 776.8 87.9C781.2 88.3 780.1 88.4 784.3 88.0C788.5 87.6 787.4 88.7 789.3 86.7C791.3 84.7 796.9 83.6 790.2 82.0C783.5 80.4 775.7 80.4 769.3 82.0Z"/>
<path fill="#00ffff" d="M828.3 82.0C826.0 84.5 827.3 86.3 828.3 89.5C829.2 92.8 829.1 91.1 831.1 91.7C833.2 92.3 833.0 92.5 834.5 91.2C836.0 89.9 835.4 90.9 835.7 87.9C835.9 84.8 837.8 84.0 835.3 82.0C832.9 80.0 830.6 79.5 828.3 82.0Z"/>
<path fill="#0080ff" d="M391.4 87.4C392.2 86.2 393.2 86.3 395.1 87.0C397.0 87.7 397.1 88.0 397.1 89.5C397.1 91.1 396.6 91.4 395.1 91.7C393.6 92.0 393.8 91.8 392.6 90.4C391.3 88.9 390.6 88.5 391.4 87.4Z"/>
<path fill="#0080ff" d="M443.2 87.4C443.5 86.7 445.0 86.7 445.6 87.4C446.1 88.0 445.7 89.4 444.9 89.4C444.1 89.4 443.0 88.0 443.2 87.4Z"/>
<path fill="#0080ff" d="M553.0 87.7C553.5 87.0 555.2 87.0 555.7 87.7C556.1 88.4 555.2 89.7 554.3 89.7C553.5 89.7 552.6 88.4 553.0 87.7Z"/>
<path fill="#0080ff" d="M680.2 102.9C680.2 100.4 679.9 100.7 682.7 98.7C685.5 96.8 684.1 97.6 688.5 97.1C693.0 96.5 691.6 96.0 696.1 97.1C700.5 98.1 699.4 97.6 701.9 100.1C704.4 102.6 703.9 102.0 703.6 104.6C703.3 107.2 703.9 106.2 701.1 107.9C698.3 109.6 699.7 109.3 695.2 109.6C690.8 109.9 691.9 109.9 687.7 108.8C683.5 107.6 685.2 108.2 682.7 106.2C680.2 104.3 680.2 105.4 680.2 102.9Z"/>
<path fill="#0000ff" d="M684.3 102.4C684.6 100.9 684.3 101.1 686.9 100.1C689.4 99.0 688.5 99.1 691.9 99.2C695.2 99.3 694.8 99.2 696.9 100.4C699.0 101.6 698.5 101.3 698.2 102.9C697.9 104.5 698.7 104.1 696.1 105.1C693.4 106.0 693.5 105.9 690.2 105.7C686.9 105.6 688.0 105.7 686.0 104.6C684.1 103.5 684.1 103.9 684.3 102.4Z"/>
<path fill="#0000a0" d="M688.5 102.4C688.8 101.5 689.3 101.3 691.0 101.2C692.8 101.1 693.2 101.2 693.9 102.1C694.6 102.9 694.4 103.1 693.2 103.7C692.0 104.4 691.8 104.5 690.2 104.1C688.6 103.6 688.2 103.3 688.5 102.4Z"/>
<path fill="#0080ff" d="M829.0 86.2C827.3 87.3 828.4 88.1 829.5 89.5C830.6 90.9 830.5 90.6 832.3 90.4C834.1 90.1 834.3 90.1 835.0 88.7C835.7 87.3 836.5 87.0 834.5 86.2C832.5 85.3 830.6 85.1 829.0 86.2Z"/>
<path fill="#0000ff" d="M830.3 87.0C829.4 87.9 830.0 88.9 831.1 89.5C832.3 90.2 832.7 89.9 833.6 89.0C834.6 88.2 835.1 87.7 834.0 87.0C832.9 86.3 831.2 86.2 830.3 87.0Z"/>
<path fill="#c08000" d="M153.8 100.7C153.8 99.7 155.3 100.4 160.2 101.4C165.1 102.4 163.0 101.7 168.5 103.7C174.1 105.7 171.9 105.1 176.9 107.4C181.9 109.8 180.5 108.8 183.6 110.8C186.6 112.8 188.3 113.1 186.1 113.4C183.9 113.8 185.5 114.7 176.9 111.8C168.2 108.8 167.9 108.3 160.2 104.6C152.5 100.9 153.8 101.8 153.8 100.7Z"/>
<path fill="#c08000" d="M240.8 94.5C240.8 92.0 240.0 92.1 242.5 89.5C245.0 86.9 242.5 88.0 248.4 86.7C254.2 85.4 251.7 86.0 260.1 85.7C268.4 85.3 266.2 85.1 273.4 85.7C280.7 86.2 277.9 85.2 281.8 87.4C285.7 89.5 284.1 88.5 285.2 92.0C286.2 95.5 286.5 95.0 284.8 97.9C283.1 100.8 285.0 99.3 280.1 100.7C275.2 102.1 277.3 101.9 270.1 102.1C262.9 102.2 265.6 102.2 258.4 101.2C251.1 100.2 253.7 100.5 248.4 99.1C243.1 97.7 245.0 98.6 242.5 97.1C240.0 95.5 240.8 97.1 240.8 94.5Z"/>
<path fill="#c08000" d="M300.5 88.4C300.8 87.3 301.1 87.2 304.4 86.3C307.6 85.5 306.3 85.8 310.2 85.8C314.1 85.9 313.2 85.7 316.1 86.5C319.0 87.4 319.2 87.3 318.9 88.4C318.7 89.4 318.7 89.1 315.3 89.7C311.8 90.2 312.5 90.1 308.6 90.0C304.7 90.0 306.2 90.1 303.5 89.5C300.9 89.0 300.3 89.4 300.5 88.4Z"/>
<path fill="#c08000" d="M332.0 109.6C332.3 106.8 330.9 107.6 333.6 103.7C336.4 99.8 334.8 101.2 340.3 97.9C345.9 94.5 342.6 96.2 350.4 93.7C358.2 91.2 355.9 92.3 363.7 90.4C371.5 88.4 367.6 88.7 373.8 87.9C379.9 87.0 378.7 86.5 382.1 87.9C385.6 89.2 383.9 88.4 384.1 92.0C384.4 95.7 384.8 94.3 383.0 98.7C381.2 103.2 383.0 101.5 378.8 105.4C374.6 109.3 376.6 107.4 370.4 110.4C364.3 113.5 367.6 112.4 360.4 114.6C353.2 116.8 355.9 116.8 348.7 117.1C341.4 117.4 344.0 117.1 338.7 115.4C333.4 113.8 335.0 114.1 332.8 112.1C330.6 110.1 331.7 112.4 332.0 109.6Z"/>
<path fill="#c08000" d="M403.4 82.0C405.6 79.8 407.3 79.2 413.5 82.0C419.6 84.8 416.8 85.3 421.8 90.4C426.9 95.4 425.5 93.1 428.5 97.1C431.6 101.0 431.3 99.6 431.0 102.1C430.8 104.6 431.3 104.0 427.7 104.6C424.1 105.1 424.3 105.7 420.2 103.7C416.0 101.8 417.9 102.5 415.2 98.7C412.4 94.9 414.5 95.7 411.8 92.4C409.1 89.0 409.9 92.1 407.1 88.7C404.3 85.2 401.3 84.2 403.4 82.0Z"/>
<path fill="#c08000" d="M451.6 97.9C451.0 95.2 451.0 95.0 452.8 91.7C454.6 88.4 453.3 89.8 457.0 88.0C460.6 86.2 453.6 87.0 463.6 86.3C473.7 85.7 470.9 86.1 487.1 86.0C503.2 85.9 499.3 85.7 512.1 86.0C525.0 86.3 519.7 84.9 525.5 87.0C531.4 89.1 528.6 88.6 529.7 92.4C530.8 96.2 530.8 94.9 528.9 98.4C526.9 101.8 528.3 100.8 523.8 102.7C519.4 104.7 522.2 103.6 515.5 104.2C508.8 104.9 511.0 104.7 503.8 104.6C496.5 104.4 499.9 104.7 493.7 103.7C487.6 102.8 491.0 102.6 485.4 101.7C479.8 100.9 482.6 101.2 477.0 101.2C471.4 101.3 474.2 101.9 468.7 101.9C463.1 101.9 465.0 101.9 460.3 101.2C455.6 100.6 457.3 101.0 454.4 99.9C451.5 98.8 452.2 100.6 451.6 97.9Z"/>
<path fill="#c08000" d="M472.5 205.0C453.9 201.3 472.2 200.7 472.5 194.0C472.8 187.3 471.9 190.2 473.3 185.0C474.7 179.8 473.4 182.7 476.7 178.3C480.0 173.9 477.2 175.6 483.3 171.7C489.4 167.8 486.7 169.8 495.0 166.7C503.3 163.6 499.4 165.6 508.3 162.5C517.2 159.4 513.4 161.1 521.7 157.5C530.0 153.9 526.6 155.6 533.3 151.7C540.0 147.8 536.1 150.0 541.7 145.8C547.3 141.6 544.5 143.1 550.0 139.2C555.5 135.3 552.7 136.4 558.3 134.2C563.9 132.0 561.7 131.7 566.7 132.5C571.7 133.3 570.3 132.5 573.3 136.7C576.3 140.9 575.8 140.0 575.8 145.0C575.8 150.0 576.3 147.8 573.3 151.7C570.3 155.6 572.2 153.7 566.7 156.7C561.2 159.7 563.4 157.8 556.7 160.8C550.0 163.8 552.8 161.9 546.7 165.8C540.6 169.7 543.3 167.2 538.3 172.5C533.3 177.8 534.9 175.2 531.7 181.7C528.5 188.2 529.9 184.2 528.8 192.0C527.7 199.8 547.1 200.7 528.3 205.0C509.5 209.3 491.1 208.7 472.5 205.0Z"/>
<path fill="#c08000" d="M563.5 100.4C563.8 97.9 562.4 98.1 565.2 95.4C568.0 92.7 566.3 93.5 571.9 92.4C577.5 91.3 575.8 91.3 581.9 92.0C588.1 92.8 585.6 93.1 590.3 94.5C595.0 95.9 592.8 96.0 596.2 96.2C599.5 96.4 598.7 94.7 600.3 95.0C602.0 95.4 603.4 95.9 601.2 97.4C598.9 98.9 597.8 97.4 593.6 99.6C589.5 101.7 593.1 101.5 588.6 103.7C584.2 106.0 585.3 104.6 580.3 106.2C575.3 107.9 577.5 108.8 573.6 108.8C569.7 108.8 571.6 108.2 568.6 106.2C565.5 104.3 566.1 104.9 564.4 102.9C562.7 101.0 563.3 102.9 563.5 100.4Z"/>
<path fill="#c08000" d="M593.7 98.7C593.3 97.3 596.7 98.2 600.4 95.4C604.1 92.6 602.3 93.4 604.9 90.4C607.5 87.3 604.4 89.0 608.3 86.2C612.2 83.4 603.8 83.4 616.6 82.0C629.4 80.6 631.1 82.0 646.7 82.0C662.3 82.0 655.9 80.3 663.4 82.0C671.0 83.7 667.9 84.0 669.3 87.0C670.7 90.1 670.1 88.7 667.6 91.2C665.1 93.7 666.0 92.6 661.8 94.5C657.6 96.5 660.7 95.7 655.1 97.1C649.5 98.4 652.3 97.9 645.1 98.7C637.8 99.6 641.7 98.9 633.3 99.6C625.0 100.2 627.8 100.6 620.0 100.7C612.2 100.9 616.1 100.5 609.9 100.1C603.8 99.7 607.0 100.0 601.6 99.6C596.2 99.1 594.1 100.1 593.7 98.7Z"/>
<path fill="#c08000" d="M735.7 94.7C736.8 91.8 735.2 92.2 739.6 89.3C744.1 86.4 741.9 87.3 749.0 86.0C756.1 84.7 754.3 85.1 761.0 85.3C767.6 85.6 763.6 84.7 769.0 86.7C774.3 88.7 771.6 88.7 777.0 91.3C782.3 94.0 778.7 93.1 785.0 94.7C791.2 96.2 789.4 94.9 795.6 96.0C801.9 97.1 799.4 95.8 803.6 98.0C807.8 100.2 807.4 99.3 808.3 102.7C809.2 106.0 809.6 104.7 806.3 108.0C803.0 111.3 804.5 110.0 798.3 112.7C792.1 115.3 795.6 114.2 787.6 116.0C779.6 117.8 783.2 117.3 774.3 118.0C765.4 118.7 768.1 119.1 761.0 118.0C753.9 116.9 757.9 118.0 753.0 114.7C748.1 111.3 750.3 112.4 746.3 108.0C742.3 103.5 744.3 104.7 741.0 101.3C737.7 98.0 738.1 100.2 736.3 98.0C734.5 95.8 734.5 97.5 735.7 94.7Z"/>
<path fill="#c08000" d="M714.4 92.0C714.2 88.4 713.9 90.4 717.0 87.0C720.0 83.7 716.4 83.7 723.6 82.0C730.9 80.3 731.4 80.3 738.7 82.0C745.9 83.7 742.6 83.7 745.4 87.0C748.2 90.4 747.1 88.4 747.1 92.0C747.1 95.7 747.6 95.0 745.4 97.9C743.2 100.8 744.8 99.3 740.4 100.7C735.9 102.1 737.6 101.9 732.0 102.1C726.4 102.2 728.4 102.6 723.6 101.2C718.9 99.8 720.9 101.0 717.8 97.9C714.7 94.8 714.7 95.7 714.4 92.0Z"/>
<path fill="#c08000" d="M843.0 95.4C843.0 92.6 842.3 93.3 843.5 90.4C844.7 87.5 844.1 89.5 846.5 86.7C848.9 83.9 840.5 83.6 850.7 82.0C860.9 80.4 868.3 78.7 877.1 82.0C885.9 85.3 888.3 86.5 877.1 92.0C866.0 97.6 855.1 97.6 843.7 98.7C832.3 99.8 843.1 98.2 843.0 95.4Z"/>
<path fill="#ff8000" d="M247.5 92.9C247.5 90.4 247.0 90.8 250.0 88.7C253.1 86.6 250.6 87.5 256.7 86.7C262.9 85.8 261.2 86.0 268.4 86.2C275.7 86.4 274.0 85.7 278.5 87.4C282.9 89.0 280.8 88.2 281.8 91.2C282.8 94.2 283.4 93.6 281.5 96.2C279.5 98.8 280.9 97.9 276.0 99.1C271.0 100.2 273.2 99.8 266.8 99.6C260.3 99.3 262.3 99.5 256.7 98.4C251.1 97.3 253.1 98.1 250.0 96.2C247.0 94.4 247.5 95.4 247.5 92.9Z"/>
<path fill="#ff8000" d="M302.7 87.9C302.7 87.0 303.5 87.0 306.9 86.5C310.2 86.1 309.5 86.1 312.7 86.5C316.0 87.0 316.6 87.0 316.6 87.9C316.6 88.7 316.0 88.6 312.7 89.0C309.5 89.4 310.2 89.4 306.9 89.0C303.5 88.6 302.7 88.7 302.7 87.9Z"/>
<path fill="#ff8000" d="M346.2 102.1C347.3 99.8 345.6 100.4 350.4 97.9C355.1 95.4 354.8 96.5 360.4 94.5C366.0 92.6 362.6 94.0 367.1 92.0C371.5 90.1 369.3 89.8 373.8 88.7C378.2 87.6 377.7 87.6 380.5 88.7C383.3 89.8 382.1 89.0 382.1 92.0C382.1 95.1 383.3 94.3 380.5 97.9C377.7 101.5 379.4 100.7 373.8 102.9C368.2 105.1 370.4 103.7 363.7 104.6C357.1 105.4 359.3 105.4 353.7 105.4C348.1 105.4 349.5 105.7 347.0 104.6C344.5 103.5 345.1 104.3 346.2 102.1Z"/>
<path fill="#ff8000" d="M455.3 96.2C455.0 93.9 454.7 94.2 456.1 91.7C457.5 89.2 456.4 90.2 459.5 88.7C462.5 87.1 456.1 87.7 465.3 87.0C474.5 86.3 471.4 86.7 487.1 86.5C502.7 86.3 500.2 85.9 512.1 86.5C524.1 87.1 518.0 86.2 523.0 88.4C528.0 90.5 526.4 89.7 527.2 93.0C528.0 96.4 527.7 95.5 525.5 98.4C523.3 101.3 525.0 100.2 520.5 101.7C516.0 103.3 518.3 102.5 512.1 103.1C506.0 103.6 508.2 103.6 502.1 103.4C496.0 103.2 499.3 103.5 493.7 102.4C488.2 101.3 490.4 100.8 485.4 100.1C480.4 99.3 483.7 99.8 478.7 100.1C473.7 100.3 475.9 100.9 470.3 100.9C464.8 100.9 466.4 100.8 462.0 100.1C457.5 99.3 459.2 99.8 457.0 98.6C454.7 97.3 455.6 98.5 455.3 96.2Z"/>
<path fill="#ff8000" d="M572.7 97.9C573.3 96.2 573.3 96.1 576.9 95.4C580.5 94.7 580.8 94.6 583.6 95.7C586.4 96.8 586.4 97.1 585.3 98.7C584.2 100.4 583.6 100.2 580.3 100.7C576.9 101.3 577.8 101.3 575.3 100.4C572.7 99.4 572.2 99.6 572.7 97.9Z"/>
<path fill="#ff8000" d="M599.9 97.1C599.7 95.3 601.0 95.1 603.2 92.0C605.5 89.0 603.2 90.0 606.6 87.9C609.9 85.7 599.9 86.4 613.3 85.7C626.7 85.0 632.2 85.1 646.7 85.7C661.2 86.2 650.9 85.8 656.8 87.4C662.6 88.9 662.3 88.1 664.3 90.4C666.2 92.6 666.0 92.0 662.6 94.0C659.3 96.1 662.3 95.3 654.2 96.5C646.2 97.8 648.1 97.3 638.4 97.9C628.6 98.5 633.9 98.4 625.0 98.4C616.1 98.4 618.7 98.2 611.6 97.9C604.5 97.6 607.6 97.7 603.7 97.4C599.8 97.1 600.1 98.8 599.9 97.1Z"/>
<path fill="#ff8000" d="M669.3 88.7C671.2 85.8 661.5 84.2 676.8 82.0C692.2 79.8 701.1 79.8 715.3 82.0C729.5 84.2 720.6 84.9 719.5 88.7C718.4 92.5 719.5 92.4 711.9 93.4C704.4 94.4 707.5 92.3 696.9 91.7C686.3 91.1 688.8 92.0 680.2 91.7C671.5 91.4 674.6 91.7 671.0 90.7C667.3 89.7 667.3 91.6 669.3 88.7Z"/>
<path fill="#ff8000" d="M716.1 92.0C716.1 88.8 715.6 89.7 718.6 87.4C721.7 85.0 719.2 85.7 725.3 85.0C731.4 84.3 730.6 83.8 737.0 85.3C743.4 86.8 741.8 86.2 744.5 89.5C747.3 92.9 746.5 92.3 745.4 95.4C744.3 98.4 745.1 97.1 741.2 98.7C737.3 100.4 739.3 100.1 733.7 100.4C728.1 100.7 729.5 100.7 724.5 99.6C719.5 98.4 721.4 99.6 718.6 97.1C715.8 94.5 716.1 95.3 716.1 92.0Z"/>
<path fill="#ff8000" d="M749.6 96.0C749.6 92.4 748.5 93.5 751.0 90.7C753.4 87.8 752.3 88.4 757.0 87.3C761.6 86.2 760.1 86.2 765.0 87.3C769.9 88.4 766.8 88.0 771.6 90.7C776.5 93.3 774.3 93.1 779.6 95.3C785.0 97.6 782.3 95.8 787.6 97.3C793.0 98.9 792.3 97.6 795.6 100.0C799.0 102.4 798.5 101.8 797.6 104.7C796.7 107.5 797.6 106.2 793.0 108.7C788.3 111.1 790.7 110.4 783.6 112.0C776.5 113.5 778.7 113.5 771.6 113.3C764.5 113.1 767.6 113.5 762.3 111.3C757.0 109.1 759.4 110.0 755.7 106.6C751.9 103.3 753.0 104.9 751.0 101.3C749.0 97.8 749.6 99.6 749.6 96.0Z"/>
<path fill="#ff8000" d="M818.6 86.2L824.4 86.2L821.6 89.5Z"/>
<path fill="#ff8000" d="M844.3 94.0C843.7 91.4 843.8 92.4 845.0 89.9C846.2 87.4 845.6 89.1 848.0 86.5C850.5 83.9 842.7 83.5 852.4 82.0C862.1 80.5 868.9 79.2 877.1 82.0C885.4 84.8 887.2 85.1 877.1 90.4C867.1 95.7 857.9 96.7 847.0 97.9C836.1 99.1 845.0 96.7 844.3 94.0Z"/>
<path fill="#ff0000" d="M255.9 92.4C256.3 90.1 255.3 90.5 258.4 88.7C261.5 86.9 260.1 87.6 265.1 87.0C270.1 86.5 269.0 86.2 273.4 87.0C277.9 87.9 276.5 87.4 278.5 89.5C280.4 91.6 280.1 91.0 279.3 93.4C278.5 95.8 279.3 95.2 276.0 96.7C272.6 98.3 274.0 97.8 269.3 98.1C264.5 98.3 265.8 98.3 261.7 97.4C257.7 96.5 259.0 97.1 257.1 95.4C255.1 93.7 255.4 94.6 255.9 92.4Z"/>
<path fill="#ff0000" d="M366.6 96.2C366.6 94.0 366.9 94.3 368.8 92.0C370.6 89.8 369.6 90.5 372.1 89.5C374.6 88.5 374.3 88.5 376.3 89.0C378.2 89.6 378.0 89.1 378.0 91.2C378.0 93.3 378.0 93.0 376.3 95.4C374.6 97.7 375.5 97.1 372.9 98.2C370.4 99.3 370.9 99.4 368.8 98.7C366.6 98.1 366.6 98.4 366.6 96.2Z"/>
<path fill="#ff0000" d="M458.3 93.7C458.1 91.4 457.7 91.9 459.5 90.0C461.2 88.1 459.5 88.8 463.6 88.0C467.8 87.2 467.0 87.2 472.0 87.7C477.0 88.1 474.8 88.1 478.7 89.4C482.6 90.6 480.9 91.4 483.7 91.5C486.5 91.6 483.7 90.9 487.1 89.7C490.4 88.5 488.2 88.7 493.7 88.0C499.3 87.4 497.1 87.6 503.8 87.7C510.5 87.8 508.5 87.4 513.8 88.4C519.1 89.4 517.3 88.5 519.7 90.7C522.0 92.9 521.3 92.1 520.8 95.0C520.4 97.9 521.8 97.2 518.3 99.4C514.9 101.6 516.4 100.7 510.5 101.6C504.5 102.4 506.6 102.2 500.4 101.9C494.3 101.6 497.1 102.1 492.1 100.7C487.1 99.4 489.3 98.6 485.4 97.9C481.5 97.2 484.3 98.0 480.4 98.7C476.5 99.4 478.7 99.8 473.7 100.1C468.7 100.3 469.9 100.4 465.3 99.4C460.7 98.4 462.3 98.9 460.0 97.1C457.6 95.2 458.5 96.0 458.3 93.7Z"/>
<path fill="#ff0000" d="M606.6 93.7C606.0 91.1 606.0 91.5 608.3 89.0C610.5 86.5 608.3 87.4 613.3 86.2C618.3 85.0 616.6 85.3 623.3 85.3C630.0 85.3 627.8 85.6 633.3 86.2C638.9 86.7 635.0 86.6 640.0 87.0C645.1 87.4 644.4 86.2 648.4 87.4C652.4 88.5 652.1 88.2 652.1 90.4C652.1 92.5 652.4 92.1 648.4 93.7C644.4 95.3 645.6 94.8 640.0 95.0C634.5 95.3 636.7 94.2 631.7 94.5C626.7 94.9 630.0 95.3 625.0 96.2C620.0 97.2 621.6 97.2 616.6 97.4C611.6 97.6 613.3 97.9 609.9 96.7C606.6 95.5 607.1 96.3 606.6 93.7Z"/>
<path fill="#ff0000" d="M671.8 87.9C673.8 86.3 670.1 87.0 678.5 85.0C686.9 83.1 685.2 82.0 696.9 82.0C708.6 82.0 706.9 82.8 713.6 85.0C720.3 87.2 718.1 86.3 717.0 88.7C715.8 91.0 717.0 91.5 710.3 92.0C703.6 92.6 706.9 90.9 696.9 90.4C686.9 89.8 688.2 90.6 680.2 90.4C672.1 90.1 675.4 90.4 672.6 89.5C669.9 88.7 669.9 89.4 671.8 87.9Z"/>
<path fill="#ff0000" d="M718.6 92.0C718.9 89.5 717.8 90.1 721.1 87.9C724.5 85.6 723.4 85.6 728.7 85.3C734.0 85.1 732.6 85.1 737.0 87.0C741.5 89.0 740.9 88.1 742.0 91.2C743.2 94.3 743.2 93.8 740.4 96.2C737.6 98.6 738.7 97.8 733.7 98.4C728.7 98.9 729.8 98.9 725.3 97.9C720.9 96.9 722.5 97.3 720.3 95.4C718.1 93.4 718.4 94.5 718.6 92.0Z"/>
<path fill="#ff0000" d="M754.2 94.5C754.8 92.7 754.2 93.2 756.7 92.4C759.2 91.5 758.1 91.0 761.7 92.0C765.4 93.0 763.7 92.9 767.6 95.4C771.5 97.9 769.3 97.3 773.4 99.6C777.6 101.8 777.8 100.1 780.1 102.1C782.5 104.0 782.7 103.7 780.5 105.4C778.2 107.1 778.6 107.1 773.4 107.1C768.3 107.1 770.1 107.4 765.1 105.4C760.1 103.5 761.7 103.7 758.4 101.2C755.1 98.7 756.4 100.1 755.1 97.9C753.7 95.7 753.7 96.4 754.2 94.5Z"/>
<path fill="#ff0000" d="M845.4 92.0C845.4 89.5 845.1 90.0 847.0 87.9C849.0 85.7 846.7 86.6 851.2 85.7C855.7 84.7 855.4 84.8 860.4 85.0C865.4 85.2 863.7 84.7 866.3 86.2C868.8 87.7 868.8 87.5 867.9 89.5C867.1 91.6 867.4 90.4 863.7 92.4C860.1 94.3 861.5 93.8 857.1 95.4C852.6 96.9 853.7 97.1 850.4 97.1C847.0 97.1 848.7 97.1 847.0 95.4C845.4 93.7 845.4 94.5 845.4 92.0Z"/>
<path fill="#ff0000" d="M431.0 82.0C437.0 80.7 445.1 80.7 451.1 82.0C457.1 83.3 454.9 84.7 448.9 86.0C443.0 87.4 439.2 87.4 433.2 86.0C427.2 84.7 425.1 83.3 431.0 82.0Z"/>
<path fill="#ff0000" d="M305.6 87.0C306.9 86.6 307.6 86.6 310.2 86.7C312.9 86.8 313.6 86.8 313.6 87.4C313.6 87.9 312.7 88.0 310.2 88.2C307.7 88.4 307.6 88.4 306.1 88.0C304.5 87.6 304.2 87.5 305.6 87.0Z"/>
<path fill="#c80000" d="M267.6 91.2C268.0 90.0 268.4 89.9 269.8 90.0C271.2 90.2 271.4 90.5 271.8 91.7C272.2 92.9 272.1 93.0 270.9 93.7C269.8 94.4 269.5 94.5 268.4 93.7C267.3 92.9 267.1 92.4 267.6 91.2Z"/>
<path fill="#c80000" d="M487.1 93.7C486.5 91.3 486.8 91.8 489.6 90.0C492.4 88.2 490.1 89.0 495.4 88.4C500.7 87.7 499.3 87.8 505.5 88.0C511.6 88.2 509.9 87.4 513.8 89.0C517.7 90.6 516.6 90.3 517.2 92.9C517.7 95.4 518.3 94.8 515.5 96.7C512.7 98.7 514.4 97.9 508.8 98.7C503.2 99.5 504.6 99.5 498.8 99.1C492.9 98.6 495.1 99.2 491.2 97.4C487.3 95.6 487.6 96.2 487.1 93.7Z"/>
<path fill="#800040" d="M490.7 93.7C490.2 91.7 490.2 92.1 492.9 90.7C495.6 89.3 494.3 89.9 498.8 89.5C503.2 89.1 501.9 89.0 506.3 89.5C510.6 90.1 509.6 89.7 511.8 91.2C514.0 92.7 513.7 92.2 513.0 94.0C512.3 95.9 513.3 95.5 509.6 96.7C506.0 97.9 507.1 97.7 502.1 97.7C497.1 97.7 498.4 98.1 494.6 96.7C490.8 95.4 491.3 95.7 490.7 93.7Z"/>
<path fill="#600070" d="M494.6 93.7C494.3 92.2 494.0 92.2 497.1 91.2C500.2 90.2 499.9 90.4 503.8 90.7C507.7 91.0 507.0 90.8 508.8 92.0C510.6 93.3 510.5 93.1 509.1 94.5C507.7 95.9 508.4 95.8 504.6 96.2C500.9 96.6 501.3 96.5 497.9 95.7C494.6 94.9 494.9 95.2 494.6 93.7Z"/>
<path fill="#800040" d="M433.5 82.0C438.4 80.9 444.7 80.9 449.4 82.0C454.2 83.1 452.6 84.2 447.8 85.3C442.9 86.5 439.6 86.5 434.9 85.3C430.1 84.2 428.7 83.1 433.5 82.0Z"/>
<path fill="#c80000" d="M610.3 92.0C609.7 89.7 609.8 90.1 612.4 88.4C615.1 86.6 613.6 87.1 618.3 86.7C623.0 86.2 622.5 85.9 626.7 87.0C630.8 88.1 630.3 87.7 630.8 90.0C631.4 92.4 631.4 92.0 628.3 94.0C625.3 96.0 626.4 95.6 621.6 96.0C616.9 96.5 617.9 96.7 614.1 95.4C610.3 94.0 610.8 94.4 610.3 92.0Z"/>
<path fill="#800040" d="M614.9 91.2C614.4 89.3 614.9 89.5 617.5 88.4C620.0 87.2 619.7 87.3 622.5 87.9C625.3 88.4 625.3 88.4 625.8 90.0C626.4 91.7 626.4 91.5 624.1 92.9C621.9 94.2 622.2 94.6 619.1 94.0C616.1 93.5 615.5 93.1 614.9 91.2Z"/>
<path fill="#600070" d="M617.5 90.7C617.8 89.6 618.0 89.5 619.6 89.0C621.3 88.6 621.1 88.6 622.5 89.4C623.8 90.1 623.9 90.1 623.6 91.2C623.4 92.3 623.3 92.1 621.6 92.5C620.0 92.9 620.0 93.0 618.6 92.4C617.2 91.8 617.1 91.8 617.5 90.7Z"/>
<path fill="#c80000" d="M636.7 90.7C637.0 89.2 637.0 89.0 640.0 88.4C643.1 87.7 643.4 87.7 645.9 88.7C648.4 89.6 648.1 89.7 647.6 91.2C647.0 92.6 647.0 92.5 644.2 93.0C641.4 93.6 641.7 93.6 639.2 92.9C636.7 92.1 636.4 92.2 636.7 90.7Z"/>
<path fill="#800040" d="M676.0 87.0C676.0 85.9 673.2 87.0 680.2 85.3C687.1 83.7 686.3 81.9 696.9 82.0C707.5 82.1 706.4 83.7 711.9 85.7C717.5 87.6 714.7 86.7 713.6 87.9C712.5 89.0 715.3 88.7 708.6 89.0C701.9 89.3 703.0 88.8 693.5 88.7C684.1 88.6 686.0 89.2 680.2 88.7C674.3 88.1 676.0 88.1 676.0 87.0Z"/>
<path fill="#c80000" d="M722.8 91.7C723.3 89.5 722.5 89.5 725.3 87.9C728.1 86.2 727.3 86.3 731.2 86.7C735.1 87.1 734.5 87.1 737.0 89.0C739.5 90.9 739.3 90.1 738.7 92.4C738.1 94.6 738.7 94.4 735.4 95.7C732.0 97.0 732.5 96.6 728.7 96.2C724.9 95.8 725.9 96.0 724.0 94.5C722.0 93.0 722.4 93.9 722.8 91.7Z"/>
<path fill="#800040" d="M725.3 91.2C725.2 89.2 725.6 89.5 727.8 88.4C730.1 87.2 729.4 87.3 732.0 87.9C734.6 88.4 734.3 88.4 735.7 90.0C737.1 91.7 737.1 91.3 736.2 92.9C735.2 94.4 735.5 94.2 732.8 94.7C730.2 95.2 730.8 95.5 728.3 94.4C725.8 93.2 725.5 93.2 725.3 91.2Z"/>
<path fill="#c80000" d="M849.5 90.4C849.8 88.4 849.0 88.6 852.0 87.0C855.1 85.5 854.5 85.7 858.7 85.7C862.9 85.7 862.4 85.6 864.6 87.0C866.8 88.5 866.5 88.2 865.4 90.0C864.3 91.8 864.6 91.0 861.2 92.4C857.9 93.7 858.7 93.9 855.4 94.0C852.0 94.2 853.2 94.1 851.2 92.9C849.3 91.6 849.3 92.3 849.5 90.4Z"/>
<path fill="#800040" d="M852.0 89.5C852.4 88.1 852.0 88.1 854.5 87.0C857.1 86.0 856.6 86.1 859.6 86.3C862.5 86.6 862.0 86.6 863.4 87.9C864.8 89.1 864.7 88.7 863.7 90.0C862.7 91.3 862.9 90.9 860.4 91.7C857.9 92.5 858.6 92.5 856.2 92.4C853.9 92.3 854.8 92.3 853.4 91.4C852.0 90.4 851.6 91.0 852.0 89.5Z"/>
<path d="M112.9 87.6H880M112.9 90.6H880M112.9 94.5H880M112.9 98.6H880M112.9 102.6H880M112.9 107.6H880M112.9 113.3H880M112.9 118.9H880M112.9 125.6H880M112.9 132.4H880M112.9 139.8H880M112.9 148.3H880M112.9 157.9H880M112.9 168.6H880M112.9 179.8H880" stroke="#fff" stroke-opacity="0.45" stroke-width="1" stroke-dasharray="1 5.508" fill="none"/>
</g>
<rect x="72.7" y="210.5" width="24.6" height="12.6" fill="#000080" stroke="#222" stroke-width="1"/>
<rect x="103.4" y="210.5" width="24.6" height="12.6" fill="#0000a8" stroke="#222" stroke-width="1"/>
<rect x="134.1" y="210.5" width="24.6" height="12.6" fill="#0000d0" stroke="#222" stroke-width="1"/>
<rect x="164.9" y="210.5" width="24.6" height="12.6" fill="#0000ff" stroke="#222" stroke-width="1"/>
<rect x="195.6" y="210.5" width="24.6" height="12.6" fill="#0080ff" stroke="#222" stroke-width="1"/>
<rect x="226.3" y="210.5" width="24.6" height="12.6" fill="#00ffff" stroke="#222" stroke-width="1"/>
<rect x="257.0" y="210.5" width="24.6" height="12.6" fill="#00c080" stroke="#222" stroke-width="1"/>
<rect x="287.7" y="210.5" width="24.6" height="12.6" fill="#00ff00" stroke="#222" stroke-width="1"/>
<rect x="318.5" y="210.5" width="24.6" height="12.6" fill="#008000" stroke="#222" stroke-width="1"/>
<rect x="349.2" y="210.5" width="24.6" height="12.6" fill="#80c000" stroke="#222" stroke-width="1"/>
<rect x="379.9" y="210.5" width="24.6" height="12.6" fill="#ffff00" stroke="#222" stroke-width="1"/>
<rect x="410.6" y="210.5" width="24.6" height="12.6" fill="#c08000" stroke="#222" stroke-width="1"/>
<rect x="441.3" y="210.5" width="24.6" height="12.6" fill="#ff8000" stroke="#222" stroke-width="1"/>
<rect x="472.1" y="210.5" width="24.6" height="12.6" fill="#ff0000" stroke="#222" stroke-width="1"/>
<rect x="502.8" y="210.5" width="24.6" height="12.6" fill="#d00000" stroke="#222" stroke-width="1"/>
<rect x="533.5" y="210.5" width="24.6" height="12.6" fill="#800040" stroke="#222" stroke-width="1"/>
<rect x="564.2" y="210.5" width="24.6" height="12.6" fill="#600070" stroke="#222" stroke-width="1"/>
<text class="ax" x="101.0" y="234.6" text-anchor="middle" textLength="20.4" lengthAdjust="spacingAndGlyphs">9.40</text>
<text class="ax" x="162.5" y="234.6" text-anchor="middle" textLength="20.4" lengthAdjust="spacingAndGlyphs">23.4</text>
<text class="ax" x="223.7" y="234.6" text-anchor="middle" textLength="20.4" lengthAdjust="spacingAndGlyphs">58.1</text>
<text class="ax" x="286.7" y="234.6" text-anchor="middle" textLength="17.5" lengthAdjust="spacingAndGlyphs">144</text>
<text class="ax" x="348.5" y="234.6" text-anchor="middle" textLength="17.5" lengthAdjust="spacingAndGlyphs">359</text>
<text class="ax" x="409.7" y="234.6" text-anchor="middle" textLength="17.5" lengthAdjust="spacingAndGlyphs">892</text>
<text class="ax" x="470.8" y="234.6" text-anchor="middle" textLength="23.4" lengthAdjust="spacingAndGlyphs">2216</text>
<text class="ax" x="532.2" y="234.6" text-anchor="middle" textLength="23.4" lengthAdjust="spacingAndGlyphs">5509</text>
<path d="M89.5 313.0V534.0M117.5 313.0V534.0M145.5 313.0V534.0M173.5 313.0V534.0M201.5 313.0V534.0M229.5 313.0V534.0M257.5 313.0V534.0M285.5 313.0V534.0M313.5 313.0V534.0M341.5 313.0V534.0M369.5 313.0V534.0M397.5 313.0V534.0M425.5 313.0V534.0M452.5 313.0V534.0M480.5 313.0V534.0M508.5 313.0V534.0M536.5 313.0V534.0M564.5 313.0V534.0M592.5 313.0V534.0M620.5 313.0V534.0M648.5 313.0V534.0M676.5 313.0V534.0M704.5 313.0V534.0M732.5 313.0V534.0M760.5 313.0V534.0M89.0 313.5H761.0M89.0 341.5H761.0M89.0 368.5H761.0M89.0 396.5H761.0M89.0 423.5H761.0M89.0 451.5H761.0M89.0 478.5H761.0M89.0 506.5H761.0M89.0 533.5H761.0" stroke="#000" stroke-width="1" fill="none" shape-rendering="crispEdges"/>
<text class="g" x="88.7" y="308.8" text-anchor="middle" textLength="5.2" lengthAdjust="spacingAndGlyphs">0</text>
<text class="g" x="89.0" y="544.6" text-anchor="middle" textLength="5.2" lengthAdjust="spacingAndGlyphs">0</text>
<text class="g" x="116.7" y="308.8" text-anchor="middle" textLength="10.4" lengthAdjust="spacingAndGlyphs">20</text>
<text class="g" x="117.0" y="544.6" text-anchor="middle" textLength="10.4" lengthAdjust="spacingAndGlyphs">20</text>
<text class="g" x="144.6" y="308.8" text-anchor="middle" textLength="10.4" lengthAdjust="spacingAndGlyphs">40</text>
<text class="g" x="144.9" y="544.6" text-anchor="middle" textLength="10.4" lengthAdjust="spacingAndGlyphs">40</text>
<text class="g" x="172.6" y="308.8" text-anchor="middle" textLength="10.4" lengthAdjust="spacingAndGlyphs">60</text>
<text class="g" x="172.9" y="544.6" text-anchor="middle" textLength="10.4" lengthAdjust="spacingAndGlyphs">60</text>
<text class="g" x="200.5" y="308.8" text-anchor="middle" textLength="10.4" lengthAdjust="spacingAndGlyphs">80</text>
<text class="g" x="200.8" y="544.6" text-anchor="middle" textLength="10.4" lengthAdjust="spacingAndGlyphs">80</text>
<text class="g" x="228.5" y="308.8" text-anchor="middle" textLength="15.6" lengthAdjust="spacingAndGlyphs">100</text>
<text class="g" x="228.8" y="544.6" text-anchor="middle" textLength="15.6" lengthAdjust="spacingAndGlyphs">100</text>
<text class="g" x="256.4" y="308.8" text-anchor="middle" textLength="15.6" lengthAdjust="spacingAndGlyphs">120</text>
<text class="g" x="256.8" y="544.6" text-anchor="middle" textLength="15.6" lengthAdjust="spacingAndGlyphs">120</text>
<text class="g" x="284.4" y="308.8" text-anchor="middle" textLength="15.6" lengthAdjust="spacingAndGlyphs">140</text>
<text class="g" x="284.7" y="544.6" text-anchor="middle" textLength="15.6" lengthAdjust="spacingAndGlyphs">140</text>
<text class="g" x="312.4" y="308.8" text-anchor="middle" textLength="15.6" lengthAdjust="spacingAndGlyphs">160</text>
<text class="g" x="312.7" y="544.6" text-anchor="middle" textLength="15.6" lengthAdjust="spacingAndGlyphs">160</text>
<text class="g" x="340.3" y="308.8" text-anchor="middle" textLength="15.6" lengthAdjust="spacingAndGlyphs">180</text>
<text class="g" x="340.6" y="544.6" text-anchor="middle" textLength="15.6" lengthAdjust="spacingAndGlyphs">180</text>
<text class="g" x="368.3" y="308.8" text-anchor="middle" textLength="15.6" lengthAdjust="spacingAndGlyphs">200</text>
<text class="g" x="368.6" y="544.6" text-anchor="middle" textLength="15.6" lengthAdjust="spacingAndGlyphs">200</text>
<text class="g" x="396.2" y="308.8" text-anchor="middle" textLength="15.6" lengthAdjust="spacingAndGlyphs">220</text>
<text class="g" x="396.5" y="544.6" text-anchor="middle" textLength="15.6" lengthAdjust="spacingAndGlyphs">220</text>
<text class="g" x="424.2" y="308.8" text-anchor="middle" textLength="15.6" lengthAdjust="spacingAndGlyphs">240</text>
<text class="g" x="424.5" y="544.6" text-anchor="middle" textLength="15.6" lengthAdjust="spacingAndGlyphs">240</text>
<text class="g" x="452.2" y="308.8" text-anchor="middle" textLength="15.6" lengthAdjust="spacingAndGlyphs">260</text>
<text class="g" x="452.5" y="544.6" text-anchor="middle" textLength="15.6" lengthAdjust="spacingAndGlyphs">260</text>
<text class="g" x="480.1" y="308.8" text-anchor="middle" textLength="15.6" lengthAdjust="spacingAndGlyphs">280</text>
<text class="g" x="480.4" y="544.6" text-anchor="middle" textLength="15.6" lengthAdjust="spacingAndGlyphs">280</text>
<text class="g" x="508.1" y="308.8" text-anchor="middle" textLength="15.6" lengthAdjust="spacingAndGlyphs">300</text>
<text class="g" x="508.4" y="544.6" text-anchor="middle" textLength="15.6" lengthAdjust="spacingAndGlyphs">300</text>
<text class="g" x="536.0" y="308.8" text-anchor="middle" textLength="15.6" lengthAdjust="spacingAndGlyphs">320</text>
<text class="g" x="536.3" y="544.6" text-anchor="middle" textLength="15.6" lengthAdjust="spacingAndGlyphs">320</text>
<text class="g" x="564.0" y="308.8" text-anchor="middle" textLength="15.6" lengthAdjust="spacingAndGlyphs">340</text>
<text class="g" x="564.3" y="544.6" text-anchor="middle" textLength="15.6" lengthAdjust="spacingAndGlyphs">340</text>
<text class="g" x="592.0" y="308.8" text-anchor="middle" textLength="15.6" lengthAdjust="spacingAndGlyphs">360</text>
<text class="g" x="592.2" y="544.6" text-anchor="middle" textLength="15.6" lengthAdjust="spacingAndGlyphs">360</text>
<text class="g" x="619.9" y="308.8" text-anchor="middle" textLength="15.6" lengthAdjust="spacingAndGlyphs">380</text>
<text class="g" x="620.2" y="544.6" text-anchor="middle" textLength="15.6" lengthAdjust="spacingAndGlyphs">380</text>
<text class="g" x="647.9" y="308.8" text-anchor="middle" textLength="15.6" lengthAdjust="spacingAndGlyphs">400</text>
<text class="g" x="648.2" y="544.6" text-anchor="middle" textLength="15.6" lengthAdjust="spacingAndGlyphs">400</text>
<text class="g" x="675.8" y="308.8" text-anchor="middle" textLength="15.6" lengthAdjust="spacingAndGlyphs">420</text>
<text class="g" x="676.1" y="544.6" text-anchor="middle" textLength="15.6" lengthAdjust="spacingAndGlyphs">420</text>
<text class="g" x="703.8" y="308.8" text-anchor="middle" textLength="15.6" lengthAdjust="spacingAndGlyphs">440</text>
<text class="g" x="704.1" y="544.6" text-anchor="middle" textLength="15.6" lengthAdjust="spacingAndGlyphs">440</text>
<text class="g" x="731.7" y="308.8" text-anchor="middle" textLength="15.6" lengthAdjust="spacingAndGlyphs">460</text>
<text class="g" x="732.0" y="544.6" text-anchor="middle" textLength="15.6" lengthAdjust="spacingAndGlyphs">460</text>
<text class="g" x="759.7" y="308.8" text-anchor="middle" textLength="15.6" lengthAdjust="spacingAndGlyphs">480</text>
<text class="g" x="760.0" y="544.6" text-anchor="middle" textLength="15.6" lengthAdjust="spacingAndGlyphs">480</text>
<text class="g" x="83.3" y="316.1" text-anchor="end" textLength="15.6" lengthAdjust="spacingAndGlyphs">590</text>
<text class="g" x="765.8" y="316.4" textLength="15.6" lengthAdjust="spacingAndGlyphs">590</text>
<text class="g" x="83.3" y="344.1" text-anchor="end" textLength="15.6" lengthAdjust="spacingAndGlyphs">570</text>
<text class="g" x="765.8" y="344.4" textLength="15.6" lengthAdjust="spacingAndGlyphs">570</text>
<text class="g" x="83.3" y="371.1" text-anchor="end" textLength="15.6" lengthAdjust="spacingAndGlyphs">550</text>
<text class="g" x="765.8" y="371.4" textLength="15.6" lengthAdjust="spacingAndGlyphs">550</text>
<text class="g" x="83.3" y="399.1" text-anchor="end" textLength="15.6" lengthAdjust="spacingAndGlyphs">530</text>
<text class="g" x="765.8" y="399.4" textLength="15.6" lengthAdjust="spacingAndGlyphs">530</text>
<text class="g" x="83.3" y="426.1" text-anchor="end" textLength="15.6" lengthAdjust="spacingAndGlyphs">510</text>
<text class="g" x="765.8" y="426.4" textLength="15.6" lengthAdjust="spacingAndGlyphs">510</text>
<text class="g" x="83.3" y="454.1" text-anchor="end" textLength="15.6" lengthAdjust="spacingAndGlyphs">490</text>
<text class="g" x="765.8" y="454.4" textLength="15.6" lengthAdjust="spacingAndGlyphs">490</text>
<text class="g" x="83.3" y="481.1" text-anchor="end" textLength="15.6" lengthAdjust="spacingAndGlyphs">470</text>
<text class="g" x="765.8" y="481.4" textLength="15.6" lengthAdjust="spacingAndGlyphs">470</text>
<text class="g" x="83.3" y="509.1" text-anchor="end" textLength="15.6" lengthAdjust="spacingAndGlyphs">450</text>
<text class="g" x="765.8" y="509.4" textLength="15.6" lengthAdjust="spacingAndGlyphs">450</text>
<text class="g" x="83.3" y="536.1" text-anchor="end" textLength="15.6" lengthAdjust="spacingAndGlyphs">430</text>
<text class="g" x="765.8" y="536.4" textLength="15.6" lengthAdjust="spacingAndGlyphs">430</text>
<path d="M88 351.6H177.5" stroke="#000" stroke-width="2.2" fill="none"/>
<path d="M177 351.0H352.5" stroke="#000" stroke-width="1.8" fill="none"/>
<path d="M352 349.8H578.5" stroke="#000" stroke-width="2.0" fill="none"/>
<path d="M578 350.7H650.5" stroke="#000" stroke-width="1.3" fill="none"/>
<path d="M650 351.0H705.5" stroke="#000" stroke-width="2.0" fill="none"/>
<path d="M705 351.6H761" stroke="#000" stroke-width="1.2" fill="none"/>
<polyline points="188.3,380.7 196,385 203.3,389 212,392 226.7,395" stroke="#000" stroke-width="1.7" fill="none" stroke-linejoin="round" stroke-linecap="round"/>
<polyline points="226.7,395 233.3,394.2 293.3,394.7 313.3,396.7" stroke="#000" stroke-width="1.2" fill="none" stroke-linejoin="round" stroke-linecap="round"/>
<polyline points="313.3,396.7 326.7,400.7 345,404 360,406.7 380,410 400,411 420,412 440,407.3 456.7,404 476.7,401.7 483.3,397.7 500,397.7 513.3,396 530,397 550,396 570,392.7 596.7,390 613.3,386.7 625,385.7 637,384.7" stroke="#000" stroke-width="2.0" fill="none" stroke-linejoin="round" stroke-linecap="round"/>
<text x="91.7" y="346.7" font-size="6.5" font-style="italic" font-weight="bold" textLength="14" lengthAdjust="spacingAndGlyphs">x=0</text>
<path d="M101.5 347.3H90.7L89.0 351.8" stroke="#000" stroke-width="0.9" fill="none"/>
<text x="441" y="344.79999999999995" font-size="6.5" font-style="italic" font-weight="bold" textLength="20" lengthAdjust="spacingAndGlyphs">x=250</text>
<path d="M455.0 345.4H440L439.0 349.9" stroke="#000" stroke-width="0.9" fill="none"/>
<text x="511.7" y="344.79999999999995" font-size="6.5" font-style="italic" font-weight="bold" textLength="18" lengthAdjust="spacingAndGlyphs">x=300</text>
<path d="M524.3 345.4H510.7L509.3 349.9" stroke="#000" stroke-width="0.9" fill="none"/>
<text x="650.5" y="345.0" font-size="6.5" font-style="italic" font-weight="bold" textLength="19" lengthAdjust="spacingAndGlyphs">x=400</text>
<path d="M663.8 345.6H649.5L648.5 350.1" stroke="#000" stroke-width="0.9" fill="none"/>
<text x="740" y="346.0" font-size="6.5" font-style="italic" font-weight="bold" textLength="20" lengthAdjust="spacingAndGlyphs">x=480</text>
<path d="M740 346.6H760.0L761.5 351.1" stroke="#000" stroke-width="0.9" fill="none"/>
<text y="381.1" font-size="8.8" stroke="#000" stroke-width="0.3"><tspan x="272.2" font-style="italic" font-size="11.5">ρ</tspan><tspan x="277.4" y="382.6" font-size="5.5">1</tspan><tspan x="281" y="381.1" textLength="45.0" lengthAdjust="spacingAndGlyphs">=400~2000</tspan><tspan x="323.4">（</tspan><tspan x="334.2" textLength="16.6" lengthAdjust="spacingAndGlyphs">Ω.m</tspan><tspan x="353.4">）</tspan></text>
<text y="468.1" font-size="8.8" stroke="#000" stroke-width="0.3"><tspan x="314.4" font-style="italic" font-size="11.5">ρ</tspan><tspan x="319.59999999999997" y="469.6" font-size="5.5">2</tspan><tspan x="322" y="468.1" textLength="45.6" lengthAdjust="spacingAndGlyphs">=400~1800</tspan><tspan x="365.0">（</tspan><tspan x="375" textLength="16.9" lengthAdjust="spacingAndGlyphs">Ω.m</tspan><tspan x="393.9">）</tspan></text>
<text class="cj" x="406.7" y="379.5" font-size="11.8">卵石夹砂</text>
<text x="461" y="379" font-size="12.5" textLength="117" lengthAdjust="spacing">the pebble with sand</text>
<text class="cj" x="419.3" y="477" font-size="12">灰绿辉长岩</text>
<text x="481.9" y="473.8" font-size="10.5" textLength="43.3" lengthAdjust="spacing">diabase</text>
</svg></body></html>
